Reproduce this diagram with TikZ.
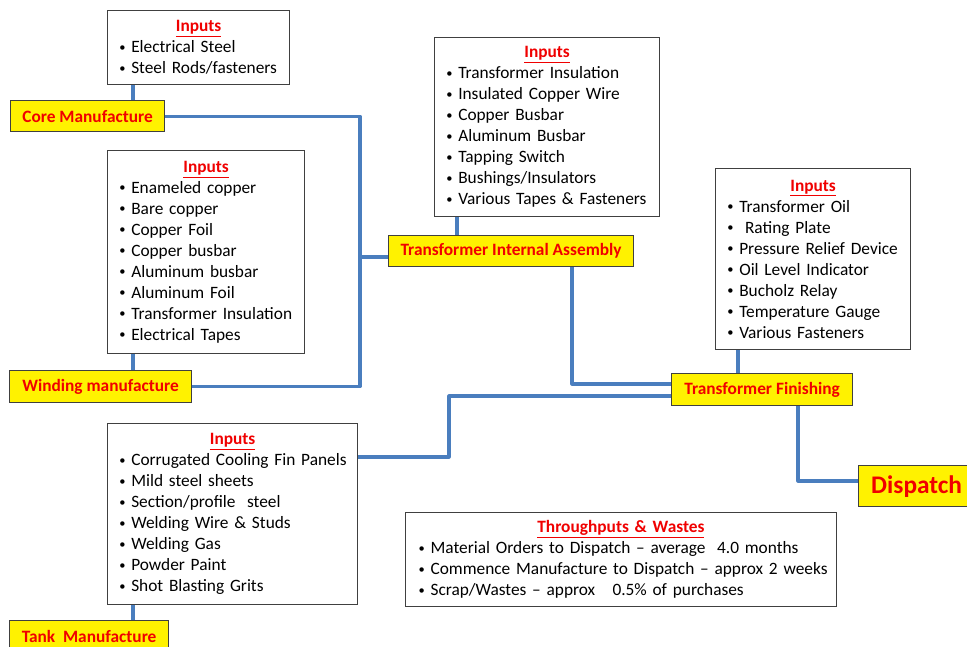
\documentclass[tikz,border=0pt]{standalone}
\usepackage{fontspec}
\setmainfont{Carlito}

\definecolor{hdred}{RGB}{240,0,0}
\definecolor{linkblue}{RGB}{74,126,190}
\definecolor{boxgray}{RGB}{64,64,64}

\newcommand{\itm}[1]{\makebox[9.75pt][l]{\hspace{0.8pt}\raisebox{1.3pt}{\scalebox{0.72}{\textbullet}}}\mbox{#1}}
\newcommand{\inhead}[1]{\hbox to\hsize{\hfil\textcolor{hdred}{\bfseries\underline{#1}}\hfil}\par}

\begin{document}
\begin{tikzpicture}[x=0.75pt, y=-0.75pt,
    inbox/.style={draw=boxgray, line width=0.9pt, fill=white, anchor=north west,
        align=left, inner xsep=8pt, inner ysep=0pt,
        font=\fontsize{13pt}{15.75pt}\selectfont},
    stage/.style={draw=boxgray, line width=0.9pt, fill=yellow, anchor=north west,
        inner sep=0pt, text=hdred, font=\fontsize{13pt}{15.75pt}\selectfont\bfseries},
    link/.style={draw=linkblue, line width=2.3pt, line join=round}]

    % Rahmen
    \useasboundingbox (0,0) rectangle (967,646);
    \clip (0,0) rectangle (967,646);

    % Core
    \node[inbox, text width=120.5pt, minimum height=55.5pt] (coreIn) at (107,10)
        {\inhead{Inputs}\itm{Electrical Steel}\\ \itm{Steel Rods/fasteners}};
    \node[stage, minimum width=115.5pt, minimum height=23.25pt] (core) at (10,100) {Core Manufacture};

    % Winding
    \node[inbox, text width=131.75pt, minimum height=152.25pt] (windIn) at (107,150)
        {\inhead{Inputs}\itm{Enameled copper}\\ \itm{Bare copper}\\ \itm{Copper Foil}\\
         \itm{Copper busbar}\\ \itm{Aluminum busbar}\\ \itm{Aluminum Foil}\\
         \itm{Transformer Insulation}\\ \itm{Electrical Tapes}};
    \node[stage, minimum width=136.5pt, minimum height=24pt] (wind) at (9,370) {Winding manufacture};

    % Tank
    \node[inbox, text width=171.5pt, minimum height=135.75pt] (tankIn) at (107,423)
        {\inhead{Inputs}\itm{Corrugated Cooling Fin Panels}\\ \itm{Mild steel sheets}\\
         \itm{Section/profile~ steel}\\ \itm{Welding Wire \& Studs}\\ \itm{Welding Gas}\\
         \itm{Powder Paint}\\ \itm{Shot Blasting Grits}};
    \node[stage, minimum width=119.25pt, minimum height=24pt] (tank) at (9,620) {Tank~ Manufacture};

    % Internal assembly
    \node[inbox, text width=152.75pt, minimum height=134.25pt] (intIn) at (434,37)
        {\inhead{Inputs}\itm{Transformer Insulation}\\ \itm{Insulated Copper Wire}\\
         \itm{Copper Busbar}\\ \itm{Aluminum Busbar}\\ \itm{Tapping Switch}\\
         \itm{Bushings/Insulators}\\ \itm{Various Tapes \& Fasteners}};
    \node[stage, minimum width=183.75pt, minimum height=23.25pt] (tia) at (388,235) {Transformer Internal Assembly};

    % Finishing
    \node[inbox, text width=130.25pt, minimum height=135.75pt] (finIn) at (715,168)
        {\inhead{Inputs}\itm{Transformer Oil}\\ \itm{\ Rating Plate}\\
         \itm{Pressure Relief Device}\\ \itm{Oil Level Indicator}\\ \itm{Bucholz Relay}\\
         \itm{Temperature Gauge}\\ \itm{Various Fasteners}};
    \node[stage, minimum width=135.75pt, minimum height=24pt] (tf) at (671,373) {Transformer Finishing};

    % Dispatch
    \node[stage, minimum width=87pt, minimum height=30.75pt,
        font=\fontsize{19pt}{22pt}\selectfont\bfseries] (disp) at (858,465) {Dispatch};

    % Throughputs
    \node[inbox, text width=305pt, minimum height=70.5pt, inner xsep=9pt] (thru) at (405,512)
        {\inhead{Throughputs \& Wastes}\itm{Material Orders to Dispatch -- average~ 4.0 months}\\
         \itm{Commence Manufacture to Dispatch -- approx 2 weeks}\\
         \itm{Scrap/Wastes -- approx~~ 0.5\% of purchases}};

    % Knicke
    \coordinate (dL) at (133,0);
    \coordinate (dInt) at (457,0);
    \coordinate (dFin) at (738,0);
    \coordinate (jA) at (360,257);
    \coordinate (jB) at (572,384);
    \coordinate (jC) at (449,396);
    \coordinate (jD) at (449,457);
    \coordinate (jE) at (798,481);

    % Inputs zu Stufen
    \draw[link] (coreIn.south -| dL) -- (core.north -| dL);
    \draw[link] (windIn.south -| dL) -- (wind.north -| dL);
    \draw[link] (tankIn.south -| dL) -- (tank.north -| dL);
    \draw[link] (intIn.south -| dInt) -- (tia.north -| dInt);
    \draw[link] (finIn.south -| dFin) -- (tf.north -| dFin);

    % Stufen untereinander
    \draw[link] (core.east) -| (jA);
    \draw[link] (wind.east) -| (jA);
    \draw[link] (jA) -- (jA -| tia.west);
    \draw[link] (tia.south -| jB) -- (jB) -- (jB -| tf.west);
    \draw[link] (tf.west |- jC) -- (jC) -- (jD) -- (jD -| tankIn.east);
    \draw[link] (tf.south -| jE) -- (jE) -- (jE -| disp.west);
\end{tikzpicture}
\end{document}
